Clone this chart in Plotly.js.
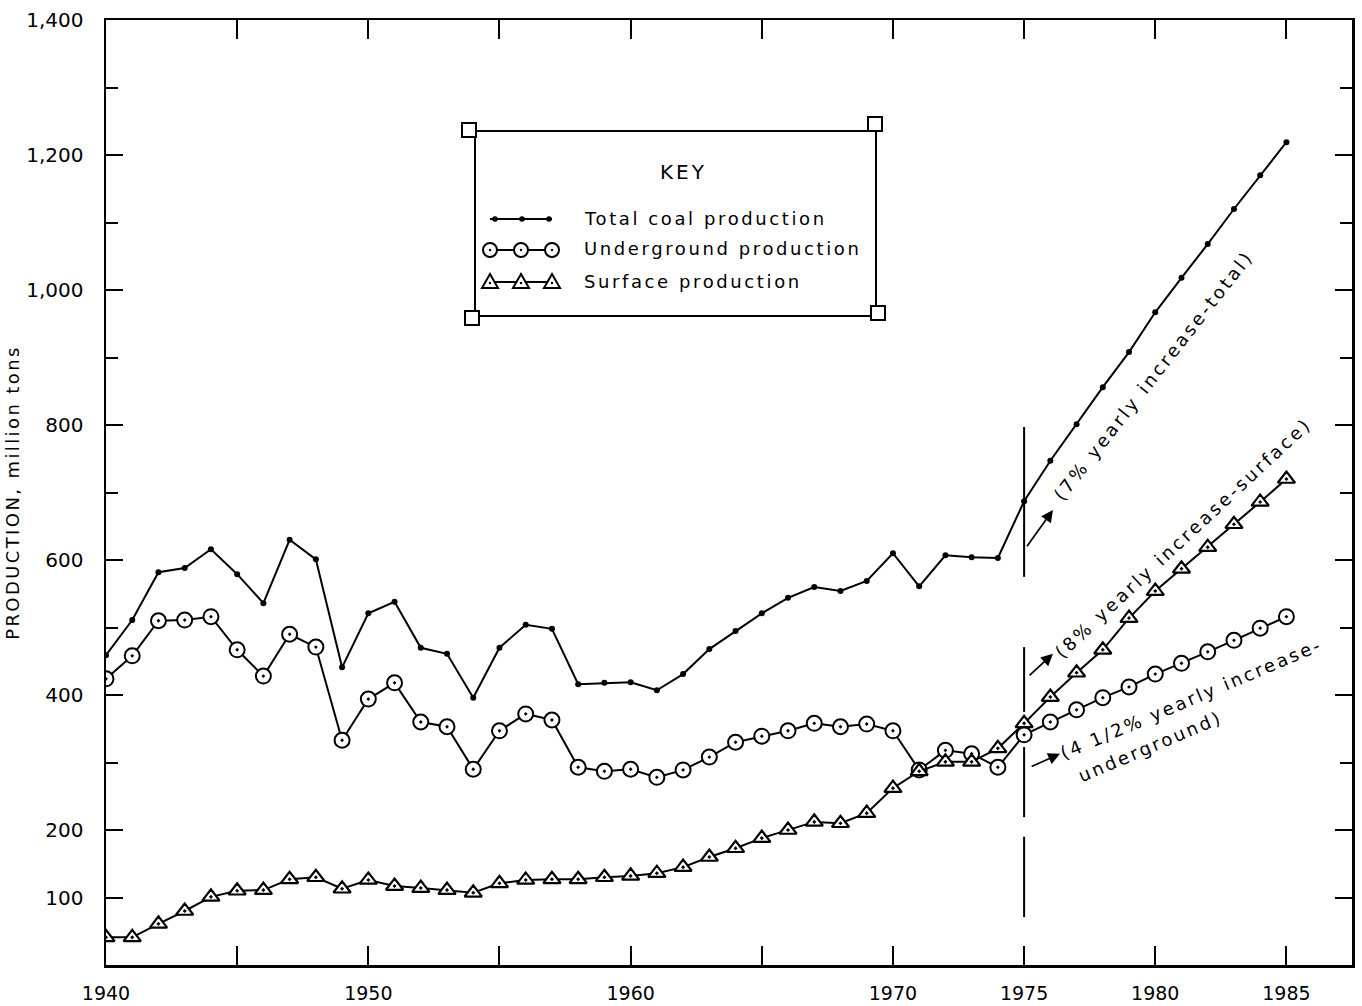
<!DOCTYPE html>
<html><head><meta charset="utf-8">
<script src="https://cdn.plot.ly/plotly-3.0.1.min.js"></script>
<style>html,body{margin:0;padding:0;background:#fff;} #chart{width:1362px;height:1006px;}</style>
</head><body><div id="chart"></div>
<script>
// ---------------- DATA ----------------
const years = [1940,1941,1942,1943,1944,1945,1946,1947,1948,1949,
               1950,1951,1952,1953,1954,1955,1956,1957,1958,1959,
               1960,1961,1962,1963,1964,1965,1966,1967,1968,1969,
               1970,1971,1972,1973,1974,1975,1976,1977,1978,1979,
               1980,1981,1982,1983,1984,1985];
const totalProduction = [459,511,582,588,616,579,536,630,601,441,
                         521,538,470,461,396,470,504,498,416,418,
                         419,407,431,468,495,521,544,560,554,569,
                         610,561,607,604,603,687,747,801,856,908,
                         967,1018,1068,1120,1170,1219];
const undergroundProduction = [424,458,510,511,516,467,428,490,471,333,
                               394,418,360,353,290,347,372,363,293,287,
                               290,278,289,308,330,339,347,358,353,357,
                               347,289,318,313,293,341,360,378,396,412,
                               431,447,464,481,499,516];
const surfaceProduction = [41,41,61,80,101,110,111,127,130,113,
                           126,117,114,111,107,121,126,127,127,130,
                           132,136,145,160,173,188,200,212,210,225,
                           262,287,301,301,321,358,397,433,467,514,
                           554,587,619,653,686,720];
const seriesNames = ['Total coal production','Underground production','Surface production'];
const xTickYears = [1940,1945,1950,1955,1960,1965,1970,1975,1980,1985];
const xTickLabels = ['1940','','1950','','1960','','1970','1975','1980','1985'];
const yTickValues = [100,200,400,600,800,1000,1200,1400];
const yTickLabels = ['100','200','400','600','800','1,000','1,200','1,400'];
const yMinorTicks = [300,500,700,900,1100,1300];
const projectionYear = 1975;
const growthNotes = ['(7% yearly increase-total)','(8% yearly increase-surface)','(4 1/2% yearly increase-','underground)'];
const keyTitle = 'KEY';
const yTitle = 'PRODUCTION, million tons';

// ---------------- LAYOUT HELPERS ----------------
const FONT = 'DejaVu Sans';
const PL = 106, PR = 1352, PT = 20, PB = 965;
const px = x => (x - PL) / (PR - PL);
const py = y => (PB - y) / (PB - PT);
const sp = (t, ls) => `<span style="letter-spacing:${ls}px">${t}</span>`;
const BLACK = '#000';

const traces = [
  {x: years, y: undergroundProduction, name: seriesNames[1], mode: 'lines+markers',
   line: {color: BLACK, width: 2},
   marker: {symbol: 'circle-dot', size: 15, color: '#fff', line: {color: BLACK, width: 2}}},
  {x: years, y: surfaceProduction, name: seriesNames[2], mode: 'lines+markers',
   line: {color: BLACK, width: 2},
   marker: {symbol: 'triangle-up-dot', size: 15, color: '#fff', line: {color: BLACK, width: 2.2}}},
  {x: years, y: totalProduction, name: seriesNames[0], mode: 'lines+markers',
   line: {color: BLACK, width: 2},
   marker: {symbol: 'circle', size: 6, color: BLACK}}
];

const shapes = [];
// dashed projection line at 1975
[[797,575],[471,375],[323,219],[190,71]].forEach(s => shapes.push({
  type: 'line', xref: 'x', yref: 'y', x0: projectionYear, x1: projectionYear, y0: s[0], y1: s[1],
  line: {color: BLACK, width: 2}}));

// key box
shapes.push({type: 'rect', xref: 'paper', yref: 'paper', x0: px(475), x1: px(876), y0: py(316), y1: py(131),
  line: {color: BLACK, width: 2}, fillcolor: 'rgba(0,0,0,0)'});
[[462,123],[868,117],[465,311],[871,306]].forEach(c => shapes.push({
  type: 'rect', xref: 'paper', yref: 'paper', x0: px(c[0]), x1: px(c[0] + 14), y0: py(c[1] + 14), y1: py(c[1]),
  line: {color: BLACK, width: 2}, fillcolor: '#fff'}));

// key samples
const rowY = [219, 250, 282];
const sampleX = [490, 521, 552];
rowY.forEach(yy => shapes.push({type: 'line', xref: 'paper', yref: 'paper',
  x0: px(490), x1: px(552), y0: py(yy), y1: py(yy), line: {color: BLACK, width: 1.8}}));
const circ = (cx, cy, r, fill, lw) => ({type: 'circle', xref: 'paper', yref: 'paper',
  x0: px(cx - r), x1: px(cx + r), y0: py(cy + r), y1: py(cy - r),
  fillcolor: fill, line: {color: BLACK, width: lw}});
[495, 522, 549].forEach(x => shapes.push(circ(x, rowY[0], 2.8, BLACK, 0)));
sampleX.forEach(x => { shapes.push(circ(x, rowY[1], 7, '#fff', 2)); shapes.push(circ(x, rowY[1], 1.2, BLACK, 0)); });
sampleX.forEach(x => {
  const cy = rowY[2];
  const p = [[x - 8, cy + 6], [x + 8, cy + 6], [x, cy - 8]];
  shapes.push({type: 'path', xref: 'paper', yref: 'paper',
    path: 'M' + p.map(q => px(q[0]) + ',' + py(q[1])).join('L') + 'Z',
    fillcolor: '#fff', line: {color: BLACK, width: 2}});
  shapes.push(circ(x, cy + 1, 1.2, BLACK, 0));
});

const ann = [];
ann.push({xref: 'paper', yref: 'paper', x: px(683), y: py(172), xanchor: 'center', yanchor: 'middle',
  text: sp(keyTitle, 3), showarrow: false, font: {family: FONT, size: 20, color: BLACK}});
seriesNames.forEach((n, i) => ann.push({xref: 'paper', yref: 'paper', x: px(582), y: py(rowY[i] - 1),
  xanchor: 'left', yanchor: 'middle', text: sp(n, 2.6), showarrow: false,
  font: {family: FONT, size: 18, color: BLACK}}));

// arrows
[[1975.07, 618, 1976.1, 674], [1975.15, 427, 1976.1, 461], [1975.23, 293, 1976.37, 313]].forEach(a => ann.push({
  xref: 'x', yref: 'y', axref: 'x', ayref: 'y', ax: a[0], ay: a[1], x: a[2], y: a[3], text: '',
  showarrow: true, arrowhead: 2, arrowsize: 1.4, arrowwidth: 1.7, arrowcolor: BLACK}));

// rotated notes
[[1979.93, 873, -52, 3], [1981.08, 633, -43, 3], [1981.38, 395, -23, 2.6], [1979.80, 324, -23, 2.6]].forEach((t, i) => ann.push({
  xref: 'x', yref: 'y', x: t[0], y: t[1], xanchor: 'center', yanchor: 'middle',
  text: sp(growthNotes[i], t[3]), textangle: t[2], showarrow: false,
  font: {family: FONT, size: 18, color: BLACK}}));

const axisCommon = {showline: true, linecolor: BLACK, linewidth: 2.5, mirror: 'allticks', ticks: 'inside',
  tickcolor: BLACK, tickwidth: 2, showgrid: false, zeroline: false,
  tickfont: {family: FONT, size: 20, color: BLACK}};

const layout = {
  width: 1362, height: 1006,
  margin: {l: PL, r: 1362 - PR, t: PT, b: 1006 - PB},
  paper_bgcolor: '#fff', plot_bgcolor: '#fff', showlegend: false,
  font: {family: FONT, color: BLACK},
  xaxis: Object.assign({}, axisCommon, {range: [1940, 1987.5], tickmode: 'array', tickvals: xTickYears,
    ticktext: xTickLabels, ticklen: 19, ticklabelstandoff: 10,
    tickfont: {family: FONT, size: 19, color: BLACK}}),
  yaxis: Object.assign({}, axisCommon, {range: [0, 1400], tickmode: 'array', tickvals: yTickValues,
    ticktext: yTickLabels, ticklen: 17, ticklabelstandoff: 16,
    minor: {tickmode: 'array', tickvals: yMinorTicks, ticks: 'inside', ticklen: 12, tickwidth: 2, tickcolor: BLACK},
    title: {text: sp(yTitle, 2.4), font: {family: FONT, size: 18, color: BLACK}, standoff: 2}}),
  shapes: shapes,
  annotations: ann
};

Plotly.newPlot('chart', traces, layout, {displayModeBar: false, staticPlot: true});
</script></body></html>
